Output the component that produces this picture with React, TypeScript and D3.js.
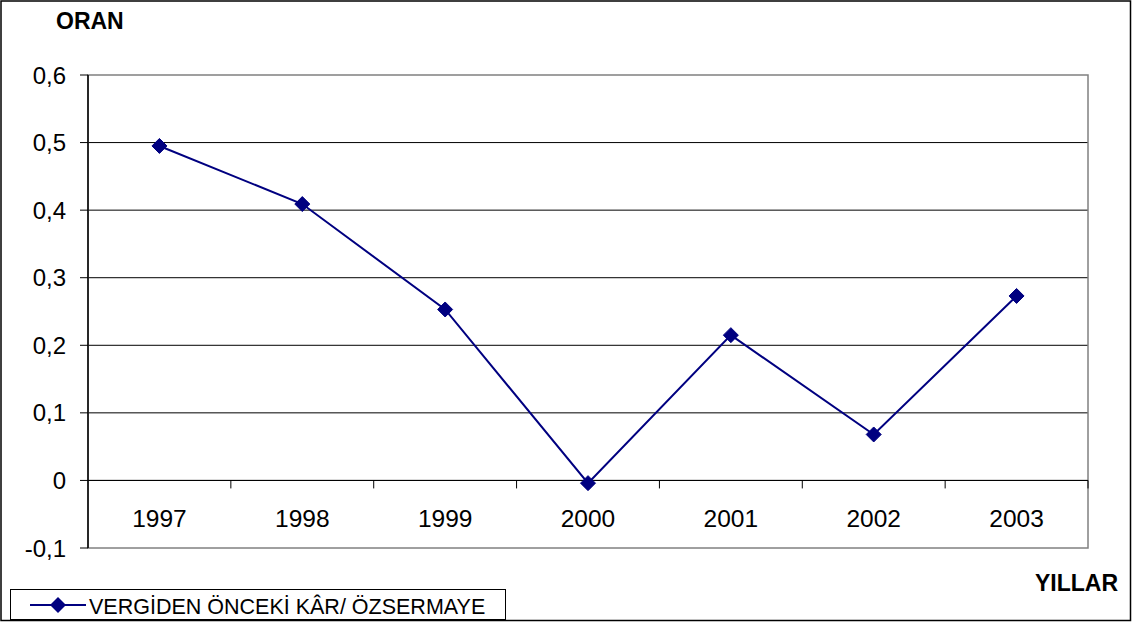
import React from 'react';
import * as d3 from 'd3';

const years = ['1997', '1998', '1999', '2000', '2001', '2002', '2003'];
const ratios = [0.495, 0.409, 0.253, -0.004, 0.215, 0.068, 0.273];
const yTicks = [-0.1, 0, 0.1, 0.2, 0.3, 0.4, 0.5, 0.6];
const seriesName = 'VERGİDEN ÖNCEKİ KÂR/ ÖZSERMAYE';

const W = 1132;
const H = 622;
const plot = { left: 88, right: 1088, top: 75, bottom: 548 };
const font = 'Arial, "Liberation Sans", sans-serif';
const navy = '#000080';

const App: React.FC = () => {
  const x = d3.scaleBand<string>().domain(years).range([plot.left, plot.right]).padding(0);
  const y = d3.scaleLinear().domain([-0.1, 0.6]).range([plot.bottom, plot.top]);

  const line = d3
    .line<number>()
    .x((_, i) => (x(years[i]) || 0) + x.bandwidth() / 2)
    .y((d) => y(d));

  const diamond = (cx: number, cy: number, r: number) =>
    `M${cx},${cy - r}L${cx + r},${cy}L${cx},${cy + r}L${cx - r},${cy}Z`;

  const fmt = (v: number) => (Math.round(v * 10) / 10).toString().replace('.', ',');
  const zeroY = y(0);

  return (
    <div style={{ position: 'absolute', left: 0, top: 0 }}>
      <svg width={W} height={H} style={{ display: 'block', fontFamily: font }}>
        <rect x={0} y={0} width={W} height={H} fill="#fff" />
        <rect x={1} y={1} width={W - 2.5} height={H - 2.5} fill="none" stroke="#000" strokeWidth={1.5} />

        {/* gridlines */}
        {yTicks.filter((t) => t > -0.1 && t < 0.6).map((t) => (
          <line key={t} x1={plot.left} x2={plot.right} y1={y(t)} y2={y(t)} stroke="#000" strokeWidth={1} />
        ))}

        {/* plot area border */}
        <rect
          x={plot.left}
          y={plot.top}
          width={plot.right - plot.left}
          height={plot.bottom - plot.top}
          fill="none"
          stroke="#808080"
          strokeWidth={1.5}
        />

        {/* y axis */}
        <line x1={plot.left} x2={plot.left} y1={plot.top} y2={plot.bottom} stroke="#000" strokeWidth={1.5} />
        {yTicks.map((t) => (
          <g key={t}>
            <line x1={plot.left - 8} x2={plot.left} y1={y(t)} y2={y(t)} stroke="#000" strokeWidth={1} />
            <text x={plot.left - 22} y={y(t)} dy="0.36em" textAnchor="end" fontSize={24}>
              {fmt(t)}
            </text>
          </g>
        ))}

        {/* x axis at zero */}
        <line x1={plot.left} x2={plot.right} y1={zeroY} y2={zeroY} stroke="#000" strokeWidth={1} />
        {years.map((yr, i) => {
          const bx = x(yr) || 0;
          return (
            <g key={yr}>
              {i > 0 && <line x1={bx} x2={bx} y1={zeroY} y2={zeroY + 8} stroke="#000" strokeWidth={1} />}
              <text x={bx + x.bandwidth() / 2} y={zeroY + 47} textAnchor="middle" fontSize={24.5}>
                {yr}
              </text>
            </g>
          );
        })}
        <line x1={plot.right} x2={plot.right} y1={zeroY} y2={zeroY + 8} stroke="#000" strokeWidth={1} />

        {/* series */}
        <path d={line(ratios) || ''} fill="none" stroke={navy} strokeWidth={2} />
        {ratios.map((v, i) => (
          <path
            key={years[i]}
            d={diamond((x(years[i]) || 0) + x.bandwidth() / 2, y(v), 7.5)}
            fill={navy}
            stroke={navy}
            strokeWidth={1}
          />
        ))}

        {/* axis titles */}
        <text x={56} y={29} fontSize={23} fontWeight="bold">ORAN</text>
        <text x={1118} y={591} fontSize={23} fontWeight="bold" textAnchor="end">YILLAR</text>

        {/* legend */}
        <rect x={10.5} y={589.5} width={495} height={30} fill="#fff" stroke="#000" strokeWidth={1} />
        <line x1={30} x2={86} y1={605} y2={605} stroke={navy} strokeWidth={2} />
        <path d={diamond(58, 605, 8)} fill={navy} />
        <text x={89} y={614} fontSize={21.5}>{seriesName}</text>
      </svg>
    </div>
  );
};

export default App;
